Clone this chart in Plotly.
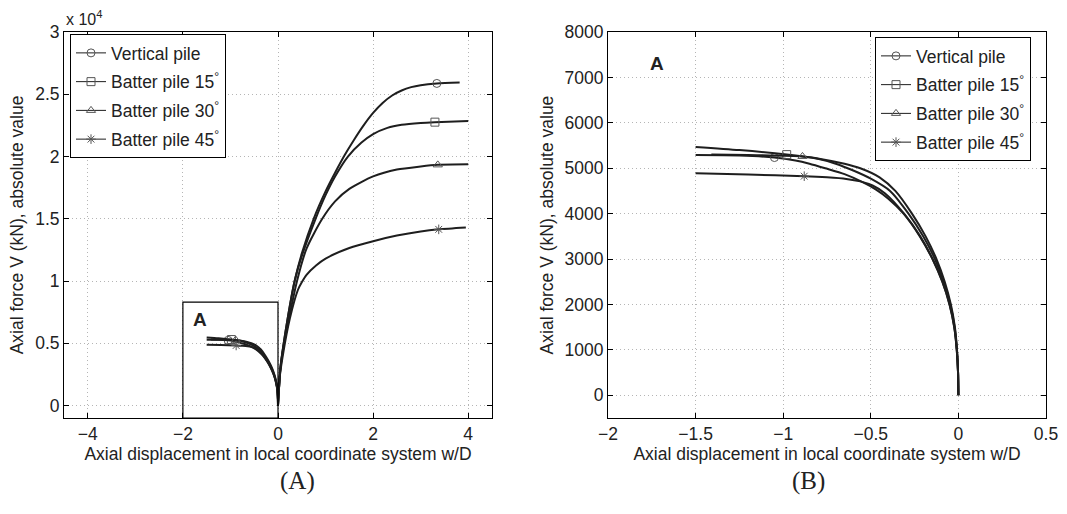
import plotly.graph_objects as go

# ---------------- data (axial force in kN) ----------------
series_names = ["Vertical pile", "Batter pile 15<sup>°</sup>",
                "Batter pile 30<sup>°</sup>", "Batter pile 45<sup>°</sup>"]
series_symbols = ["circle-open", "square-open", "triangle-up-open", "asterisk-open"]

# negative branch (w/D < 0)
neg_x_vertical = [-1.5, -1.25, -1.05, -0.93, -0.85, -0.76, -0.65, -0.55, -0.47, -0.4, -0.313, -0.22, -0.148, -0.092, -0.051, -0.024, -0.0095, -0.002, 0.0]
neg_v_vertical = [5290, 5280, 5235, 5170, 5100, 5000, 4870, 4700, 4530, 4330, 4000, 3500, 3000, 2500, 2000, 1500, 1000, 500, 0]
neg_x_b15 = [-1.5, -1.25, -0.98, -0.78, -0.65, -0.56, -0.45, -0.36, -0.265, -0.187, -0.125, -0.078, -0.043, -0.02, -0.008, -0.002, 0.0]
neg_v_b15 = [5470, 5400, 5300, 5200, 5100, 5000, 4800, 4500, 4000, 3500, 3000, 2500, 2000, 1500, 1000, 500, 0]
neg_x_b30 = [-1.41, -1.2, -0.89, -0.79, -0.7, -0.6, -0.5, -0.39, -0.285, -0.201, -0.134, -0.084, -0.046, -0.0215, -0.0085, -0.002, 0.0]
neg_v_b30 = [5300, 5290, 5260, 5200, 5100, 4950, 4770, 4500, 4000, 3500, 3000, 2500, 2000, 1500, 1000, 500, 0]
neg_x_b45 = [-1.5, -1.2, -0.88, -0.75, -0.64, -0.56, -0.49, -0.42, -0.31, -0.218, -0.147, -0.091, -0.05, -0.0235, -0.0093, -0.002, 0.0]
neg_v_b45 = [4890, 4860, 4825, 4800, 4765, 4710, 4620, 4450, 4000, 3500, 3000, 2500, 2000, 1500, 1000, 500, 0]

# positive branch (w/D > 0)
pos_x_vertical = [0.0, 0.05, 0.12, 0.25, 0.35, 0.5, 0.75, 1.0, 1.2, 1.4, 1.6, 1.8, 2.0, 2.2, 2.4, 2.6, 2.8, 3.0, 3.34, 3.82]
pos_v_vertical = [0, 3000, 5000, 8000, 10000, 12200, 15000, 17200, 18700, 20100, 21350, 22500, 23500, 24300, 24900, 25300, 25570, 25730, 25870, 25940]
pos_x_b15 = [0.0, 0.05, 0.12, 0.35, 0.5, 0.79, 1.0, 1.2, 1.47, 1.75, 2.0, 2.3, 2.6, 3.0, 3.3, 4.0]
pos_v_b15 = [0, 3000, 5000, 10000, 12000, 15000, 16900, 18400, 20000, 21100, 21800, 22300, 22550, 22700, 22760, 22850]
pos_x_b30 = [0.0, 0.05, 0.12, 0.4, 0.6, 0.93, 1.2, 1.5, 2.0, 2.5, 3.0, 3.36, 4.0]
pos_v_b30 = [0, 2900, 4800, 10000, 12600, 15000, 16400, 17400, 18400, 18950, 19200, 19330, 19370]
pos_x_b45 = [0.0, 0.04, 0.1, 0.25, 0.42, 0.5, 0.6, 0.8, 1.0, 1.5, 2.0, 2.5, 3.0, 3.38, 3.95]
pos_v_b45 = [0, 2400, 4000, 7000, 9300, 9900, 10500, 11250, 11800, 12650, 13200, 13650, 13980, 14150, 14300]

# marker positions
mark_neg_x = [-1.05, -0.98, -0.89, -0.88]
mark_neg_v = [5235, 5300, 5260, 4825]
mark_pos_x = [3.34, 3.30, 3.36, 3.38]
mark_pos_v = [25870, 22760, 19330, 14150]

x_ticks_left = [-4, -2, 0, 2, 4]
x_tick_text_left = ["\u22124", "\u22122", "0", "2", "4"]
y_ticks_left = [0, 0.5, 1, 1.5, 2, 2.5, 3]
y_tick_text_left = ["0", "0.5", "1", "1.5", "2", "2.5", "3"]
x_ticks_right = [-2, -1.5, -1, -0.5, 0, 0.5]
x_tick_text_right = ["\u22122", "\u22121.5", "\u22121", "\u22120.5", "0", "0.5"]
y_ticks_right = [0, 1000, 2000, 3000, 4000, 5000, 6000, 7000, 8000]

neg_x = [neg_x_vertical, neg_x_b15, neg_x_b30, neg_x_b45]
neg_v = [neg_v_vertical, neg_v_b15, neg_v_b30, neg_v_b45]
pos_x = [pos_x_vertical, pos_x_b15, pos_x_b30, pos_x_b45]
pos_v = [pos_v_vertical, pos_v_b15, pos_v_b30, pos_v_b45]

LINE = "#1e1e1e"
MARK = "#555555"
TXT = "#222222"
FONT = "Liberation Sans, Arial, sans-serif"
FS = 17.5
SCALE = 1e4
W, H = 1067, 514

fig = go.Figure()

line_style = dict(color=LINE, width=2, shape="spline", smoothing=0.7)
for i in range(4):
    mk = dict(symbol=series_symbols[i], size=8, color=MARK, line=dict(width=1, color=MARK))
    # left panel (values in 10^4 kN)
    for xs, vs in ((neg_x[i], neg_v[i]), (pos_x[i], pos_v[i])):
        fig.add_trace(go.Scatter(x=xs, y=[v / SCALE for v in vs], mode="lines", line=line_style,
                                 showlegend=False, hoverinfo="skip", xaxis="x", yaxis="y"))
    fig.add_trace(go.Scatter(x=[mark_neg_x[i], mark_pos_x[i]],
                             y=[mark_neg_v[i] / SCALE, mark_pos_v[i] / SCALE],
                             mode="markers", marker=mk,
                             showlegend=False, hoverinfo="skip", xaxis="x", yaxis="y"))
    # right panel
    fig.add_trace(go.Scatter(x=neg_x[i], y=neg_v[i], mode="lines", line=line_style,
                             showlegend=False, hoverinfo="skip", xaxis="x2", yaxis="y2"))
    fig.add_trace(go.Scatter(x=[mark_neg_x[i]], y=[mark_neg_v[i]], mode="markers", marker=mk,
                             showlegend=False, hoverinfo="skip", xaxis="x2", yaxis="y2"))

# legend entries
for leg, xa, ya in (("legend", "x", "y"), ("legend2", "x2", "y2")):
    for i in range(4):
        fig.add_trace(go.Scatter(x=[None], y=[None], mode="lines+markers", name=series_names[i],
                                 legend=leg, legendgroup=f"{leg}{i}",
                                 line=dict(color=LINE, width=1),
                                 marker=dict(symbol=series_symbols[i], size=8, color=MARK,
                                             line=dict(width=1, color=MARK)),
                                 xaxis=xa, yaxis=ya))

axis_common = dict(showline=True, linecolor="black", linewidth=1, mirror="ticks",
                   ticks="inside", ticklen=5, tickcolor="black", automargin=False,
                   showgrid=True, gridcolor="#b5b5b5", griddash="1px,3px", gridwidth=1,
                   zeroline=False, tickfont=dict(family=FONT, size=FS, color=TXT),
                   title_font=dict(family=FONT, size=FS, color=TXT))

xtitle = "Axial displacement in local coordinate system w/D"
ytitle = "Axial force V (kN), absolute value"
legend_common = dict(xanchor="left", yanchor="top", bgcolor="white",
                     bordercolor="black", borderwidth=1, traceorder="grouped", tracegroupgap=3,
                     font=dict(family=FONT, size=FS, color=TXT))

fig.update_layout(
    width=W, height=H, margin=dict(l=0, r=0, t=0, b=0),
    paper_bgcolor="white", plot_bgcolor="white",
    font=dict(family=FONT, size=FS, color=TXT),
    xaxis=dict(domain=[64 / W, 492 / W], range=[-4.5, 4.5], tickvals=x_ticks_left,
               ticktext=x_tick_text_left,
               title=dict(text=xtitle, standoff=4), anchor="y", **axis_common),
    yaxis=dict(domain=[1 - 418 / H, 1 - 32 / H], range=[-0.1, 3], tickvals=y_ticks_left,
               ticktext=y_tick_text_left, title=dict(text=ytitle, standoff=7),
               anchor="x", **axis_common),
    xaxis2=dict(domain=[608 / W, 1046 / W], range=[-2, 0.5], tickvals=x_ticks_right,
                ticktext=x_tick_text_right,
                title=dict(text=xtitle, standoff=4), anchor="y2", **axis_common),
    yaxis2=dict(domain=[1 - 418 / H, 1 - 32 / H], range=[-500, 8000], tickvals=y_ticks_right,
                title=dict(text=ytitle, standoff=6), anchor="x2", **axis_common),
    legend=dict(x=70 / W, y=1 - 34 / H, **legend_common),
    legend2=dict(x=875 / W, y=1 - 37 / H, **legend_common),
    shapes=[dict(type="rect", xref="x", yref="y", x0=-2, x1=0, y0=-0.1, y1=0.83,
                 line=dict(color="black", width=1.2))],
    annotations=[
        dict(text="<b>A</b>", x=-1.65, y=0.69, xref="x", yref="y", showarrow=False,
             font=dict(family=FONT, size=19, color=TXT)),
        dict(text="<b>A</b>", x=-1.72, y=7300, xref="x2", yref="y2", showarrow=False,
             font=dict(family=FONT, size=19, color=TXT)),
        dict(text="x 10<sup>4</sup>", x=64 / W, y=1 - 6 / H, xref="paper", yref="paper",
             xanchor="left", yanchor="top", showarrow=False,
             font=dict(family=FONT, size=16, color=TXT)),
        dict(text="(A)", x=278 / W, y=1 - 497 / H, xref="paper", yref="paper", showarrow=False,
             font=dict(family="Liberation Serif, Times New Roman, serif", size=25, color=TXT)),
        dict(text="(B)", x=827 / W, y=1 - 497 / H, xref="paper", yref="paper", showarrow=False,
             font=dict(family="Liberation Serif, Times New Roman, serif", size=25, color=TXT)),
    ],
)

fig.write_html("out.html", config={"displayModeBar": False},
               post_script="document.body.style.margin='0';document.body.style.overflow='hidden';")
